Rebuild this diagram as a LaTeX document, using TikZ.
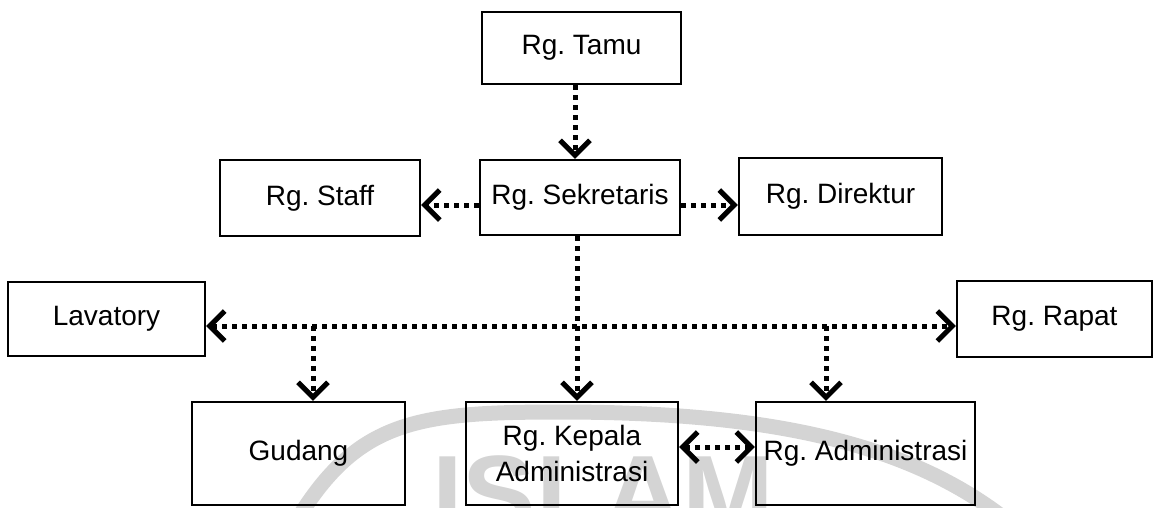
\documentclass[tikz,border=0pt]{standalone}
\usepackage{fontspec}
\setmainfont{Liberation Sans}
\usetikzlibrary{arrows.meta}
\frenchspacing
\tikzset{
  room/.style={draw, line width=2.4pt, rectangle, inner sep=0pt,
    font=\fontsize{28}{36}\selectfont, align=center},
  >={Straight Barb[length=15pt,width=30pt,line width=5pt]},
  conn/.style={line width=5pt, dash pattern=on 5pt off 5pt, ->},
  biconn/.style={line width=5pt, dash pattern=on 5pt off 5pt, <->},
  wm/.style={black!17}
}
\begin{document}
\begin{tikzpicture}[x=1pt,y=-1pt]
\useasboundingbox (0,0) rectangle (1155,507);
% faint watermark
\begin{scope}
  \clip (0,0) rectangle (1155,507);
  \draw[wm, line width=15pt] (300,515) .. controls (360,420) and (420,412) .. (560,412)
        .. controls (760,412) and (900,440) .. (1000,515);
  \node[wm, anchor=base west, inner sep=0pt,
        font=\fontsize{110}{110}\selectfont\bfseries] (wmtext) at (432,532) {ISLAM};
\end{scope}
% rooms
\node[room, minimum width=199pt, minimum height=72pt] (tamu) at (581.5,48) {Rg. Tamu};
\node[room, minimum width=200pt, minimum height=76pt] (staff) at (320,198) {Rg. Staff};
\node[room, minimum width=200pt, minimum height=75pt] (sek) at (580,197.5) {Rg. Sekretaris};
\node[room, minimum width=203pt, minimum height=77pt] (dir) at (840.5,196.5) {Rg. Direktur};
\node[room, minimum width=197pt, minimum height=74pt] (lav) at (106.5,319) {Lavatory};
\node[room, minimum width=195pt, minimum height=76pt] (rapat) at (1054.5,319) {Rg. Rapat};
\node[room, minimum width=213pt, minimum height=103pt] (gudang) at (298.5,453.5) {Gudang};
\node[room, minimum width=212pt, minimum height=103pt] (kepala) at (572,453.5) {Rg. Kepala\\Administrasi};
\node[room, minimum width=219pt, minimum height=103pt] (adm) at (865.5,453.5) {Rg. Administrasi};
% junctions on the long corridor line
\coordinate (jg) at (313,326);
\coordinate (ja) at (826,326);
% connectors
\draw[conn] (tamu.south -| 575,0) -- (sek.north -| 575,0);
\draw[conn] (sek.west |- 0,205) -- (staff.east |- 0,205);
\draw[conn] (sek.east |- 0,205) -- (dir.west |- 0,205);
\draw[biconn] (lav.east |- 0,326) -- (rapat.west |- 0,326);
\draw[conn] (sek.south -| 577,0) -- (kepala.north -| 577,0);
\draw[conn] (jg) -- (gudang.north -| jg);
\draw[conn] (ja) -- (adm.north -| ja);
\draw[biconn] (kepala.east |- 0,447) -- (adm.west |- 0,447);
\end{tikzpicture}
\end{document}
